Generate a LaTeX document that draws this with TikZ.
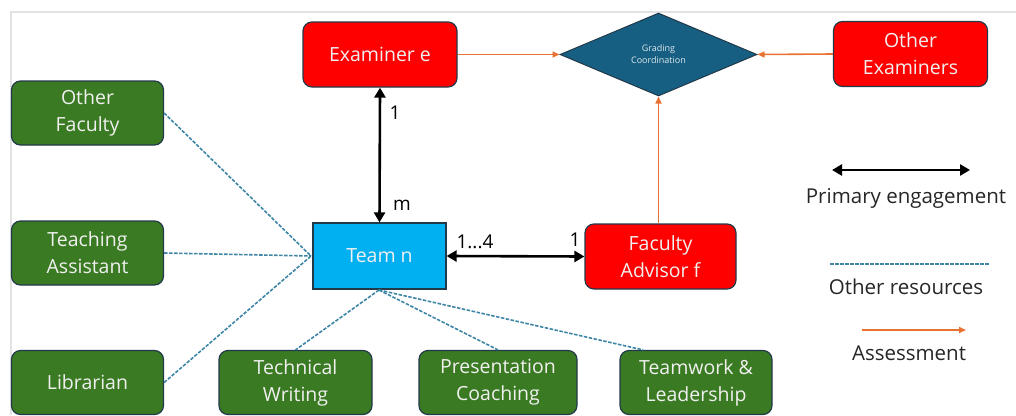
\documentclass[tikz,border=0pt]{standalone}
\usepackage{fontspec}
\setmainfont{Open Sans}
\usetikzlibrary{shapes.geometric,arrows.meta}
\definecolor{boxred}{HTML}{FF0000}
\definecolor{boxgreen}{HTML}{3A7A22}
\definecolor{teamblue}{HTML}{00B0F0}
\definecolor{diamondblue}{HTML}{165F82}
\definecolor{edgedark}{HTML}{22394A}
\definecolor{assessorange}{HTML}{E97132}
\definecolor{dashblue}{HTML}{3F86A6}
\definecolor{framegray}{HTML}{E2E2E2}
\tikzset{
  basebox/.style={draw=edgedark, line width=1.2pt, text=white!94!black, align=center,
    font=\fontsize{19.5}{27}\selectfont, inner sep=0pt},
  redbox/.style={basebox, fill=boxred, rounded corners=9pt, minimum width=154pt, minimum height=65pt},
  greenbox/.style={basebox, fill=boxgreen, rounded corners=9pt, minimum width=152pt, minimum height=64pt},
  teambox/.style={basebox, fill=teamblue, minimum width=133pt, minimum height=66pt},
  primary/.style={line width=2.6pt, {Triangle[length=10pt,width=11pt]}-{Triangle[length=10pt,width=11pt]}},
  assess/.style={draw=assessorange, line width=1.6pt, -{Triangle[length=7pt,width=6pt]}},
  resource/.style={draw=dashblue, line width=1.6pt, dash pattern=on 3.5pt off 1.5pt},
  numlabel/.style={font=\fontsize{19}{21}\selectfont, text=black, inner sep=0pt},
  legendtext/.style={font=\fontsize{20.5}{23}\selectfont, text=black!85, inner sep=0pt}
}
\begin{document}
\begin{tikzpicture}[x=1pt,y=-1pt]
\useasboundingbox (0,0) rectangle (1016,415);
% frame lines
\draw[framegray, line width=2pt] (11,415) -- (11,12) -- (1016,12);

% nodes
\node[redbox] (exam) at (380,54.5) {Examiner e};
\node[diamond, aspect=2.37, fill=diamondblue, draw=edgedark, line width=1pt,
      minimum width=197pt, minimum height=83pt, inner sep=0pt, text=white!85!diamondblue,
      align=center, font=\fontsize{9}{12}\selectfont] (grade) at (658.5,54.5) {Grading\\Coordination};
\node[redbox] (otherex) at (910.5,54) {Other\\Examiners};
\node[greenbox] (ofac) at (87.5,113) {Other\\Faculty};
\node[greenbox] (ta) at (87.5,253) {Teaching\\Assistant};
\node[greenbox] (lib) at (87.5,382.5) {Librarian};
\node[teambox] (team) at (379.5,256) {Team n};
\node[redbox, minimum width=151pt] (fadv) at (660.5,256.5) {Faculty\\Advisor f};
\node[greenbox, minimum width=153pt] (tech) at (295.5,382.5) {Technical\\Writing};
\node[greenbox, minimum width=158pt] (pres) at (498,382.5) {Presentation\\Coaching};
\node[greenbox] (teamw) at (696,382.5) {Teamwork \&\\Leadership};

% primary engagement
\draw[primary] (exam.south) -- (team.north);
\node[numlabel] (l1) at (395,113) {1};
\node[numlabel] (lm) at (402,205) {m};
\draw[primary] (team.east) -- (fadv.west);
\node[numlabel] (l14) at (475,242) {1...4};
\node[numlabel] (l1b) at (575,240) {1};

% assessment
\draw[assess] (exam.east) -- (grade.west);
\draw[assess] (otherex.west) -- (grade.east);
\draw[assess] (fadv.north -| grade.south) -- (grade.south);

% other resources
\coordinate (tl) at (311,256);
\coordinate (tb) at (379,290);
\draw[resource] (ofac.east) -- (tl);
\draw[resource] (ta.east) -- (tl);
\draw[resource] (lib.east) -- (tl);
\draw[resource] (tb) -- (tech.north);
\draw[resource] (tb) -- (pres.north);
\draw[resource] (tb) -- (teamw.north west -| 643,0);

% legend
\coordinate (pa) at (832,170);
\coordinate (pb) at (970,170);
\draw[primary] (pa) -- (pb);
\node[legendtext] (lp) at (906,198) {Primary engagement};
\coordinate (ra) at (830,264);
\coordinate (rb) at (990,264);
\draw[resource] (ra) -- (rb);
\node[legendtext] (lr) at (906,287) {Other resources};
\coordinate (aa) at (862,330);
\coordinate (ab) at (966,330);
\draw[assess] (aa) -- (ab);
\node[legendtext] (la) at (909,353) {Assessment};
\end{tikzpicture}
\end{document}
